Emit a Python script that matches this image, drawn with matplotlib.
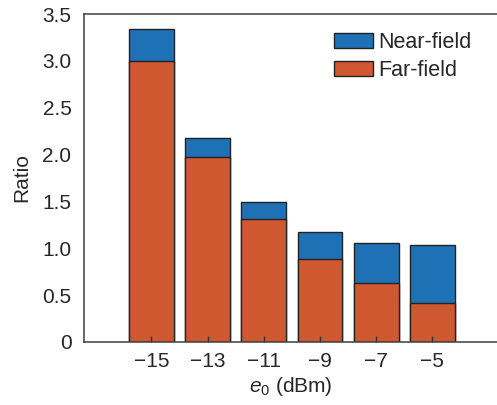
import numpy as np
import matplotlib.pyplot as plt
from matplotlib.patches import Patch

plt.rcParams['font.family'] = ['Liberation Sans', 'DejaVu Sans']
plt.rcParams['mathtext.fontset'] = 'custom'
plt.rcParams['mathtext.rm'] = 'Liberation Sans'
plt.rcParams['mathtext.it'] = 'Liberation Sans:italic'

# data
power = [-15, -13, -11, -9, -7, -5]
near_field = [3.34, 2.18, 1.49, 1.17, 1.06, 1.035]
far_field = [3.00, 1.97, 1.31, 0.89, 0.625, 0.42]

blue = '#1f71b6'
orange = '#cf5830'
edge = '#222222'

fig = plt.figure(figsize=(4.97, 4.05), dpi=100)
ax = fig.add_axes([0.169, 0.1556, 0.831, 0.8098])

ax.bar(power, near_field, width=1.6, color=blue, edgecolor=edge, linewidth=1.0)
ax.bar(power, far_field, width=1.6, color=orange, edgecolor=edge, linewidth=1.0)

ax.set_xlim(-17.4, -2.7)
ax.set_ylim(0, 3.5)
ax.set_xticks(power)
ax.set_xticklabels(['\u221215', '\u221213', '\u221211', '\u22129', '\u22127', '\u22125'])
ax.set_yticks(np.arange(0, 3.51, 0.5))
ax.set_yticklabels(['0', '0.5', '1.0', '1.5', '2.0', '2.5', '3.0', '3.5'])

ax.tick_params(axis='x', direction='in', length=4, width=1, colors='#333333',
               labelsize=15, labelcolor='#262626', pad=7)
ax.tick_params(axis='y', length=0, labelsize=15, labelcolor='#262626', pad=9)

for s in ['left', 'bottom', 'top']:
    ax.spines[s].set_color('#404040')
    ax.spines[s].set_linewidth(1.1)
ax.spines['right'].set_visible(False)

ax.set_ylabel('Ratio', fontsize=15, color='#262626', labelpad=8)
ax.set_xlabel(r'$e_0$ (dBm)', fontsize=15, color='#262626', labelpad=3)

handles = [Patch(facecolor=blue, edgecolor=edge, linewidth=1.0, label='Near-field'),
           Patch(facecolor=orange, edgecolor=edge, linewidth=1.0, label='Far-field')]
ax.legend(handles=handles, loc='upper left', bbox_to_anchor=(0.672, 0.92),
          bbox_transform=fig.transFigure, frameon=False, fontsize=15.5,
          handlelength=1.8, handleheight=0.7, handletextpad=0.25,
          labelspacing=0.3, borderaxespad=0, borderpad=0, labelcolor='#262626')

fig.savefig('out.png', dpi=100)
